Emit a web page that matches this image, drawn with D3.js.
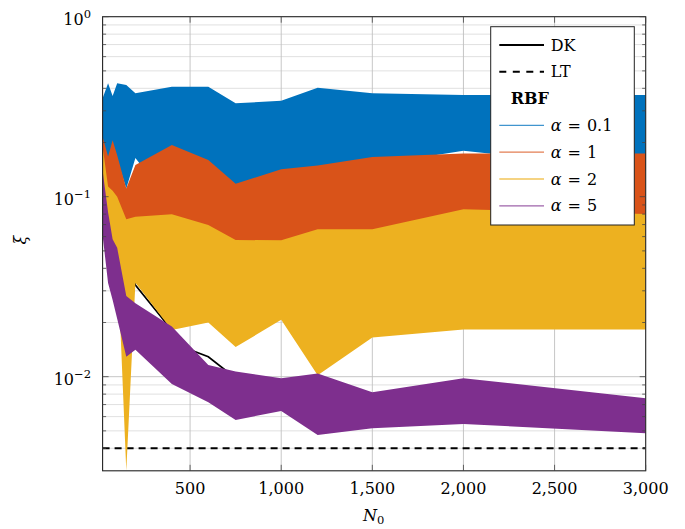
<!DOCTYPE html>
<html lang="en">
<head>
<meta charset="UTF-8">
<title>xi vs N0</title>
<script src="https://d3js.org/d3.v7.min.js"></script>
<style>
  body { margin: 0; background: #fff; }
  svg { display: block; }
  text { font-family: 'DejaVu Serif', serif; fill: #000; }
</style>
</head>
<body>
<svg width="685" height="529"></svg>
<script>
// sample sizes on the x axis
const N0 = [20, 50, 75, 100, 150, 200, 400, 600, 750, 1000, 1200, 1500, 2000, 3000];

// RBF bands (lower / upper xi) for each alpha
const blueHigh   = [0.352, 0.427, 0.363, 0.427, 0.418, 0.375, 0.408, 0.408, 0.330, 0.341, 0.403, 0.375, 0.367, 0.367];
const blueLow    = [0.190, 0.150, 0.180, 0.160, 0.111, 0.164, 0.090, 0.120, 0.100, 0.120, 0.130, 0.150, 0.180, 0.140];
const orangeHigh = [0.215, 0.167, 0.206, 0.170, 0.111, 0.150, 0.194, 0.160, 0.118, 0.142, 0.149, 0.166, 0.174, 0.174];
const orangeLow  = [0.160, 0.100, 0.095, 0.090, 0.065, 0.068, 0.070, 0.060, 0.050, 0.050, 0.058, 0.058, 0.075, 0.070];
const yellowHigh = [0.190, 0.114, 0.108, 0.100, 0.075, 0.0774, 0.080, 0.0696, 0.0575, 0.0572, 0.0659, 0.0659, 0.0851, 0.0801];
const yellowLow  = [0.120, 0.070, 0.055, 0.050, 0.003, 0.0333, 0.0182, 0.0200, 0.0146, 0.0207, 0.0102, 0.0165, 0.0183, 0.0183];
const purpleHigh = [0.140, 0.082, 0.058, 0.052, 0.0281, 0.0256, 0.0190, 0.0116, 0.0107, 0.0098, 0.0104, 0.0082, 0.0098, 0.0076];
const purpleLow  = [0.061, 0.0332, 0.0267, 0.021, 0.0129, 0.0141, 0.0091, 0.0072, 0.00575, 0.00645, 0.00474, 0.00517, 0.00546, 0.00485];

// DK curve and LT level
const dkN  = [20, 50, 75, 100, 150, 200, 400, 500, 600, 750, 1000, 1500, 2000, 3000];
const dkXi = [0.235, 0.15, 0.10, 0.07, 0.044, 0.0323, 0.0181, 0.0141, 0.0129, 0.0098, 0.0085, 0.0072, 0.0065, 0.006];
const ltXi = 0.004;

// ticks
const xTicks = [500, 1000, 1500, 2000, 2500, 3000];
const yMajor = [1, 0.1, 0.01];
const yExp = ["0", "\u22121", "\u22122"];

const bands = [
  { name: "0.1", color: "#0072BD", low: blueLow, high: blueHigh },
  { name: "1", color: "#D95319", low: orangeLow, high: orangeHigh },
  { name: "2", color: "#EDB120", low: yellowLow, high: yellowHigh },
  { name: "5", color: "#7E2F8E", low: purpleLow, high: purpleHigh }
];

const svg = d3.select("svg");
const pLeft = 102.6, pRight = 645.7, pTop = 16.7, pBottom = 470.8;

const x = d3.scaleLinear().domain([20, 3000]).range([pLeft, pRight]);
const y = d3.scaleLog().domain([0.003, 1]).range([pBottom, pTop]);

svg.append("clipPath").attr("id", "plotClip")
  .append("rect").attr("x", pLeft).attr("y", pTop)
  .attr("width", pRight - pLeft).attr("height", pBottom - pTop);

// minor y values (2..9 per decade inside the range)
const yMinor = y.ticks().filter(v => yMajor.indexOf(v) < 0 && v > 0.003 && v < 1);

// grid
const grid = svg.append("g");
grid.selectAll(".ymin").data(yMinor).enter().append("line")
  .attr("x1", pLeft).attr("x2", pRight)
  .attr("y1", d => y(d)).attr("y2", d => y(d))
  .attr("stroke", "#d8d8d8").attr("stroke-width", 0.8);
grid.selectAll(".ymaj").data(yMajor.slice(1)).enter().append("line")
  .attr("x1", pLeft).attr("x2", pRight)
  .attr("y1", d => y(d)).attr("y2", d => y(d))
  .attr("stroke", "#c0c0c0").attr("stroke-width", 0.9);
grid.selectAll(".xmaj").data(xTicks.slice(0, -1)).enter().append("line")
  .attr("x1", d => x(d)).attr("x2", d => x(d))
  .attr("y1", pTop).attr("y2", pBottom)
  .attr("stroke", "#c0c0c0").attr("stroke-width", 0.9);

const plot = svg.append("g").attr("clip-path", "url(#plotClip)");

// DK line (under the bands)
plot.append("path")
  .datum(dkN.map((n, i) => [n, dkXi[i]]))
  .attr("fill", "none").attr("stroke", "#000").attr("stroke-width", 1.7)
  .attr("d", d3.line().x(d => x(d[0])).y(d => y(d[1])));

// LT level
plot.append("line")
  .attr("x1", pLeft).attr("x2", pRight)
  .attr("y1", y(ltXi)).attr("y2", y(ltXi))
  .attr("stroke", "#000").attr("stroke-width", 2)
  .attr("stroke-dasharray", "7,5");

// RBF bands
const area = d3.area()
  .x(d => x(d.n)).y0(d => y(d.lo)).y1(d => y(d.hi));
bands.forEach(b => {
  plot.append("path")
    .datum(N0.map((n, i) => ({ n: n, lo: b.low[i], hi: b.high[i] })))
    .attr("fill", b.color)
    .attr("d", area);
});

// frame
svg.append("rect").attr("x", pLeft).attr("y", pTop)
  .attr("width", pRight - pLeft).attr("height", pBottom - pTop)
  .attr("fill", "none").attr("stroke", "#222").attr("stroke-width", 1.1);

// ticks, inward on all sides
const tk = svg.append("g").attr("stroke", "#444").attr("stroke-width", 0.8);
yMajor.concat(yMinor).forEach(v => {
  const len = yMajor.indexOf(v) >= 0 ? 6 : 3.5;
  tk.append("line").attr("x1", pLeft).attr("x2", pLeft + len).attr("y1", y(v)).attr("y2", y(v));
  tk.append("line").attr("x1", pRight).attr("x2", pRight - len).attr("y1", y(v)).attr("y2", y(v));
});
xTicks.forEach(v => {
  tk.append("line").attr("x1", x(v)).attr("x2", x(v)).attr("y1", pBottom).attr("y2", pBottom - 6);
  tk.append("line").attr("x1", x(v)).attr("x2", x(v)).attr("y1", pTop).attr("y2", pTop + 6);
});

// x tick labels
svg.selectAll(".xl").data(xTicks).enter().append("text")
  .attr("x", d => x(d)).attr("y", pBottom + 23)
  .attr("text-anchor", "middle").attr("font-size", 16)
  .text(d => d3.format(",")(d));

// y tick labels: 10^k
yMajor.forEach((v, i) => {
  const t = svg.append("text")
    .attr("x", 91).attr("y", y(v) + 8)
    .attr("text-anchor", "end").attr("font-size", 16);
  t.append("tspan").text("10");
  t.append("tspan").attr("font-size", 11.5).attr("dy", -7).text(yExp[i]);
});

// axis labels
const xl = svg.append("text")
  .attr("x", 363).attr("y", 521).attr("font-size", 16);
xl.append("tspan").attr("font-style", "italic").text("N");
xl.append("tspan").attr("font-size", 11.5).attr("dy", 3).text("0");

svg.append("text")
  .attr("transform", "translate(26,240) rotate(-90)")
  .attr("text-anchor", "middle").attr("font-size", 16).attr("font-style", "italic")
  .text("\u03BE");

// legend
const lg = svg.append("g");
lg.append("rect").attr("x", 490.7).attr("y", 26.7)
  .attr("width", 143.6).attr("height", 198.3)
  .attr("fill", "#fff").attr("stroke", "#222").attr("stroke-width", 1);

const rowY = r => 45 + r * 26.8;
const lx0 = 499.3, lx1 = 544, tx = 550.7;

lg.append("line").attr("x1", lx0).attr("x2", lx1).attr("y1", rowY(0)).attr("y2", rowY(0))
  .attr("stroke", "#000").attr("stroke-width", 2);
lg.append("text").attr("x", tx).attr("y", rowY(0) + 5.5).attr("font-size", 16).text("DK");

lg.append("line").attr("x1", lx0).attr("x2", lx1).attr("y1", rowY(1)).attr("y2", rowY(1))
  .attr("stroke", "#000").attr("stroke-width", 2).attr("stroke-dasharray", "7,6.5");
lg.append("text").attr("x", tx).attr("y", rowY(1) + 5.5).attr("font-size", 16).text("LT");

lg.append("text").attr("x", 510.7).attr("y", rowY(2) + 5.5)
  .attr("font-size", 16).attr("font-weight", "bold").text("RBF");

bands.forEach((b, i) => {
  const ry = rowY(3 + i);
  lg.append("line").attr("x1", lx0).attr("x2", lx1).attr("y1", ry).attr("y2", ry)
    .attr("stroke", b.color).attr("stroke-opacity", 0.75).attr("stroke-width", 1.3);
  const t = lg.append("text").attr("x", tx).attr("y", ry + 5.5).attr("font-size", 16);
  t.append("tspan").attr("font-style", "italic").text("\u03B1");
  t.append("tspan").attr("dx", 6).text("=");
  t.append("tspan").attr("dx", 6).text(b.name);
});
</script>
</body>
</html>
